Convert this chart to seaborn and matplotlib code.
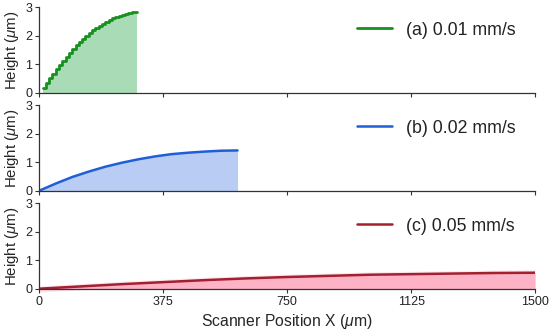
import matplotlib
matplotlib.use("Agg")
import matplotlib.pyplot as plt
import seaborn as sns

# (a) 0.01 mm/s - stepped profile
a_x = [10, 20, 30, 40, 50, 60, 70, 80, 90, 100, 110, 120, 130, 140, 150,
       160, 170, 180, 190, 200, 210, 220, 230, 240, 250, 260, 270, 280, 290, 296]
a_h = [0.15, 0.33, 0.50, 0.66, 0.82, 0.97, 1.12, 1.26, 1.40, 1.53, 1.66, 1.78,
       1.89, 2.00, 2.10, 2.19, 2.27, 2.35, 2.42, 2.49, 2.55, 2.61, 2.66, 2.70,
       2.73, 2.76, 2.79, 2.81, 2.83, 2.83]

# (b) 0.02 mm/s
b_x = [0, 50, 100, 150, 200, 250, 300, 350, 400, 450, 500, 550, 600]
b_h = [0.0, 0.25, 0.48, 0.67, 0.84, 0.98, 1.10, 1.20, 1.28, 1.33, 1.37, 1.40, 1.41]

# (c) 0.05 mm/s
c_x = [0, 125, 250, 375, 500, 625, 750, 875, 1000, 1125, 1250, 1375, 1500]
c_h = [0.0, 0.08, 0.16, 0.23, 0.30, 0.36, 0.41, 0.45, 0.49, 0.51, 0.53, 0.55, 0.56]

labels = ["(a) 0.01 mm/s", "(b) 0.02 mm/s", "(c) 0.05 mm/s"]
line_colors = ["#17901f", "#1f5fd6", "#a3202e"]
fill_colors = ["#a9dcb6", "#b9cdf4", "#fdb3c5"]
x_ticks = [0, 375, 750, 1125, 1500]
y_ticks = [0, 1, 2, 3]

sns.set_style("ticks")
plt.rcParams["font.family"] = ["Liberation Sans", "DejaVu Sans"]
plt.rcParams["mathtext.fontset"] = "custom"
plt.rcParams["mathtext.rm"] = "Liberation Sans"
plt.rcParams["mathtext.it"] = "Liberation Sans:italic"

fig = plt.figure(figsize=(5.5, 3.32), dpi=100)
ax_w = 0.9015
bottoms = [0.7208, 0.4256, 0.1304]
axes = [fig.add_axes([0.0713, b, ax_w, 0.258]) for b in bottoms]

series = [(a_x, a_h), (b_x, b_h), (c_x, c_h)]
for i, (ax, (xs, hs)) in enumerate(zip(axes, series)):
    step = i == 0
    if i == 2:
        # faint pink halo around the slow-speed trace
        ax.fill_between(xs, [h - 0.12 for h in hs], [h + 0.1 for h in hs],
                        color="#fde4f3", lw=0, zorder=0, clip_on=False)
    ax.fill_between(xs, 0, hs, color=fill_colors[i], lw=0,
                    step="post" if step else None, zorder=1)
    sns.lineplot(x=xs, y=hs, ax=ax, color=line_colors[i], lw=2.0 if step else 1.8,
                 drawstyle="steps-post" if step else "default",
                 label=labels[i], zorder=2, estimator=None, sort=False)
    ax.set_xlim(0, 1500)
    ax.set_ylim(0, 3)
    ax.set_xticks(x_ticks)
    ax.set_yticks(y_ticks)
    ax.set_ylabel("Height ($\\mu$m)", fontsize=10.8, labelpad=3)
    ax.tick_params(axis="both", direction="out", length=3, width=0.8,
                   labelsize=9, colors="#333333", pad=2)
    ax.tick_params(axis="both", labelcolor="#222222")
    for side in ["top", "right"]:
        ax.spines[side].set_visible(False)
    for side in ["left", "bottom"]:
        ax.spines[side].set_color("#333333")
        ax.spines[side].set_linewidth(0.9)
    if i < 2:
        ax.set_xticklabels([])
    leg = ax.legend(loc="center left", bbox_to_anchor=(0.64, 0.73), frameon=False,
                    fontsize=12.8, handlelength=2.0, handletextpad=0.8,
                    borderpad=0, borderaxespad=0)
    for t in leg.get_texts():
        t.set_color("#222222")

axes[2].set_xlabel("Scanner Position X ($\\mu$m)", fontsize=11.3, labelpad=3)

plt.savefig("out.png", dpi=100)
plt.close()
